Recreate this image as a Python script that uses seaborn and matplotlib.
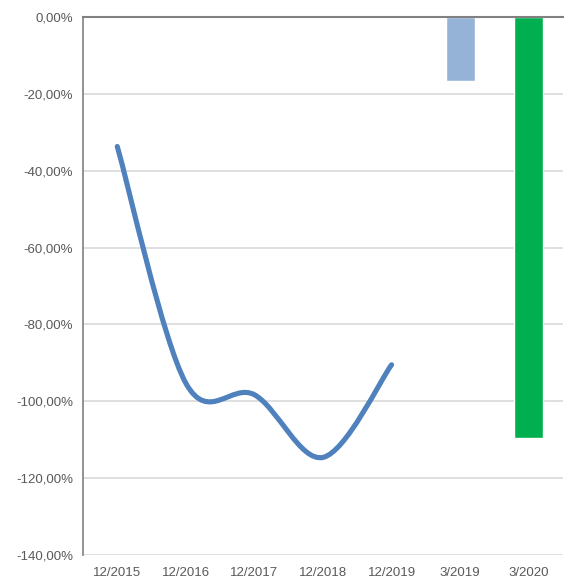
import matplotlib
matplotlib.use("Agg")
import matplotlib.pyplot as plt
from matplotlib.path import Path
from matplotlib.patches import PathPatch
import seaborn as sns
import pandas as pd
import numpy as np

categories = ["12/2015", "12/2016", "12/2017", "12/2018", "12/2019", "3/2019", "3/2020"]
line_categories = ["12/2015", "12/2016", "12/2017", "12/2018", "12/2019"]
line_values = [-33.7, -95.3, -98.3, -114.6, -90.5]
bar_categories = ["3/2019", "3/2020"]
bar_values = [-16.6, -109.5]
bar_colors = ["#95B3D7", "#00B050"]
y_ticks = [0, -20, -40, -60, -80, -100, -120, -140]

sns.set_theme(style="white")
plt.rcParams['font.family'] = ['Liberation Sans', 'DejaVu Sans']

fig = plt.figure(figsize=(5.64, 5.78), dpi=100)
ax = fig.add_axes([83/564, 1-555/578, (563-83)/564, (555-17)/578])

df = pd.DataFrame({"cat": bar_categories, "val": bar_values})
sns.barplot(data=df, x="cat", y="val", hue="cat", order=categories,
            palette=dict(zip(bar_categories, bar_colors)), width=0.42,
            legend=False, ax=ax, saturation=1, zorder=3)

# smoothed line (Excel-style Catmull-Rom / Bezier) through the data points
xs = [categories.index(c) for c in line_categories]
pts = np.array(list(zip(xs, line_values)), dtype=float)
verts = [tuple(pts[0])]
codes = [Path.MOVETO]
n = len(pts)
for i in range(n - 1):
    p0 = pts[i - 1] if i > 0 else pts[i]
    p1 = pts[i]
    p2 = pts[i + 1]
    p3 = pts[i + 2] if i + 2 < n else pts[i + 1]
    c1 = p1 + (p2 - p0) / 6.0
    c2 = p2 - (p3 - p1) / 6.0
    verts += [tuple(c1), tuple(c2), tuple(p2)]
    codes += [Path.CURVE4] * 3
patch = PathPatch(Path(verts, codes), facecolor="none", edgecolor="#4F81BD",
                  lw=3.7, capstyle="round", joinstyle="round", zorder=4)
ax.add_patch(patch)

ax.set_xlim(-0.5, len(categories) - 0.5)
ax.set_ylim(-140, 0)
ax.set_yticks(y_ticks)
ax.set_yticklabels([f"{v:.2f}".replace(".", ",") + "%" for v in y_ticks])
ax.set_xticks(range(len(categories)))
ax.set_xticklabels(categories)
ax.set_xlabel("")
ax.set_ylabel("")

ax.yaxis.grid(True, color="#D9D9D9", lw=1.2, zorder=0)
ax.xaxis.grid(False)
ax.set_axisbelow(True)
for s in ["right", "bottom"]:
    ax.spines[s].set_visible(False)
ax.spines["top"].set_color("#808080")
ax.spines["top"].set_linewidth(1.5)
ax.spines["top"].set_zorder(5)
ax.spines["left"].set_color("#808080")
ax.spines["left"].set_linewidth(1.2)

ax.tick_params(axis="y", length=0, pad=7, labelsize=9.5, labelcolor="#595959")
ax.tick_params(axis="x", length=0, pad=9, labelsize=9.5, labelcolor="#595959")

fig.savefig("out.png", dpi=100)
